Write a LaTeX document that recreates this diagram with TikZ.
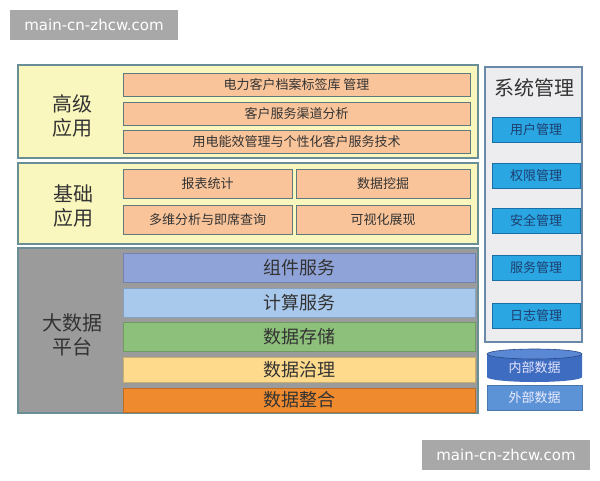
\documentclass[tikz,border=0pt]{standalone}
\usepackage{fontspec}
\newfontfamily\cjk{Noto Sans CJK SC}
\newfontfamily\wm{DejaVu Sans}
\definecolor{ylw}{HTML}{FAF7BE}
\definecolor{ylwline}{HTML}{6A8E96}
\definecolor{peach}{HTML}{F9C49A}
\definecolor{peachline}{HTML}{5E7A7E}
\definecolor{plat}{HTML}{9B9B9B}
\definecolor{barA}{HTML}{8FA3D8}
\definecolor{barB}{HTML}{A8C8EC}
\definecolor{barC}{HTML}{8DC07B}
\definecolor{barD}{HTML}{FDDA8C}
\definecolor{barE}{HTML}{EF8A2E}
\definecolor{sysfill}{HTML}{EDEDF0}
\definecolor{sysline}{HTML}{6A88A8}
\definecolor{bluebox}{HTML}{2AA6E2}
\definecolor{blueline}{HTML}{1A6FA6}
\definecolor{bluetext}{HTML}{1F3F6F}
\definecolor{cylbody}{HTML}{3E6CC0}
\definecolor{cyltop}{HTML}{5A88D5}
\definecolor{extfill}{HTML}{5B93D6}
\definecolor{wmgray}{HTML}{A8A8A8}
\definecolor{txt}{HTML}{333333}
\tikzset{
  outerbox/.style={draw=ylwline, line width=1.2pt, fill=ylw, inner sep=0pt},
  peachbox/.style={draw=peachline, line width=1pt, fill=peach, inner sep=0pt, text=txt, font=\cjk\fontsize{13}{15}\selectfont},
  barbox/.style={draw=#1!80!black, line width=0.8pt, fill=#1, inner sep=0pt, minimum width=352pt, text=txt, font=\cjk\fontsize{18}{20}\selectfont},
  biglabel/.style={align=center, text=txt, font=\cjk\fontsize{20}{24}\selectfont},
  sysitem/.style={draw=blueline, line width=1pt, fill=bluebox, inner sep=0pt, minimum width=88pt, minimum height=25pt, text=bluetext, font=\cjk\fontsize{13}{15}\selectfont},
  wmbox/.style={fill=wmgray, inner sep=0pt, minimum width=168pt, minimum height=30pt, text=white, font=\wm\fontsize{15}{17}\selectfont},
}
\begin{document}
\begin{tikzpicture}[x=1pt,y=-1pt]
\useasboundingbox (0,0) rectangle (600,480);
% watermarks
\node[wmbox] (wm1) at (94,25) {main-cn-zhcw.com};
\node[wmbox] (wm2) at (506,455) {main-cn-zhcw.com};
% high-level applications
\node[outerbox, minimum width=460pt, minimum height=93pt] (high) at (248,111.5) {};
\node[biglabel] (highlbl) at (72,116) {高级\\应用};
\node[peachbox, minimum width=347pt, minimum height=23pt] (h1) at (296.5,84.5) {电力客户档案标签库 管理};
\node[peachbox, minimum width=347pt, minimum height=23pt] (h2) at (296.5,113.5) {客户服务渠道分析};
\node[peachbox, minimum width=347pt, minimum height=23pt] (h3) at (296.5,141.5) {用电能效管理与个性化客户服务技术};
% basic applications
\node[outerbox, minimum width=460pt, minimum height=81pt] (basic) at (248,203.5) {};
\node[biglabel] (basiclbl) at (73,206) {基础\\应用};
\node[peachbox, minimum width=169pt, minimum height=29pt] (b1) at (207.5,184) {报表统计};
\node[peachbox, minimum width=174pt, minimum height=29pt] (b2) at (383,184) {数据挖掘};
\node[peachbox, minimum width=169pt, minimum height=29pt] (b3) at (207.5,220) {多维分析与即席查询};
\node[peachbox, minimum width=174pt, minimum height=29pt] (b4) at (383,220) {可视化展现};
% big data platform
\node[draw=ylwline, line width=1.2pt, fill=plat, minimum width=460pt, minimum height=165pt, inner sep=0pt] (plat) at (248,330.5) {};
\node[biglabel] (platlbl) at (72,335) {大数据\\平台};
\node[barbox=barA, minimum height=29pt] (p1) at (299,267.5) {组件服务};
\node[barbox=barB, minimum height=29pt] (p2) at (299,302.5) {计算服务};
\node[barbox=barC, minimum height=29pt] (p3) at (299,336.5) {数据存储};
\node[barbox=barD, minimum height=25pt] (p4) at (299,369.5) {数据治理};
\node[barbox=barE, minimum height=24pt] (p5) at (299,400) {数据整合};
% system management
\node[draw=sysline, line width=1.2pt, fill=sysfill, minimum width=97pt, minimum height=275pt, inner sep=0pt] (sys) at (533.5,204.5) {};
\node[biglabel] (syslbl) at (534,88) {系统管理};
\node[sysitem] (s1) at (536,129.5) {用户管理};
\node[sysitem] (s2) at (536,175.5) {权限管理};
\node[sysitem] (s3) at (536,220.5) {安全管理};
\node[sysitem] (s4) at (536,267.5) {服务管理};
\node[sysitem] (s5) at (536,315.5) {日志管理};
% internal data cylinder
\fill[cylbody] (487,354) -- (487,377) arc[start angle=180, end angle=0, x radius=47.5, y radius=5] -- (582,354) -- cycle;
\fill[cyltop] (534.5,354) ellipse [x radius=47.5, y radius=5];
\draw[cylbody!70!black, line width=0.6pt] (534.5,354) ellipse [x radius=47.5, y radius=5];
\node[text=white!90!blue, font=\cjk\fontsize{13}{15}\selectfont] (inner) at (534.5,368) {内部数据};
% external data
\node[fill=extfill, draw=extfill!80!black, line width=0.6pt, minimum width=95pt, minimum height=25pt, inner sep=0pt, text=white!92!blue, font=\cjk\fontsize{13}{15}\selectfont] (ext) at (534.5,397.5) {外部数据};
\end{tikzpicture}
\end{document}
